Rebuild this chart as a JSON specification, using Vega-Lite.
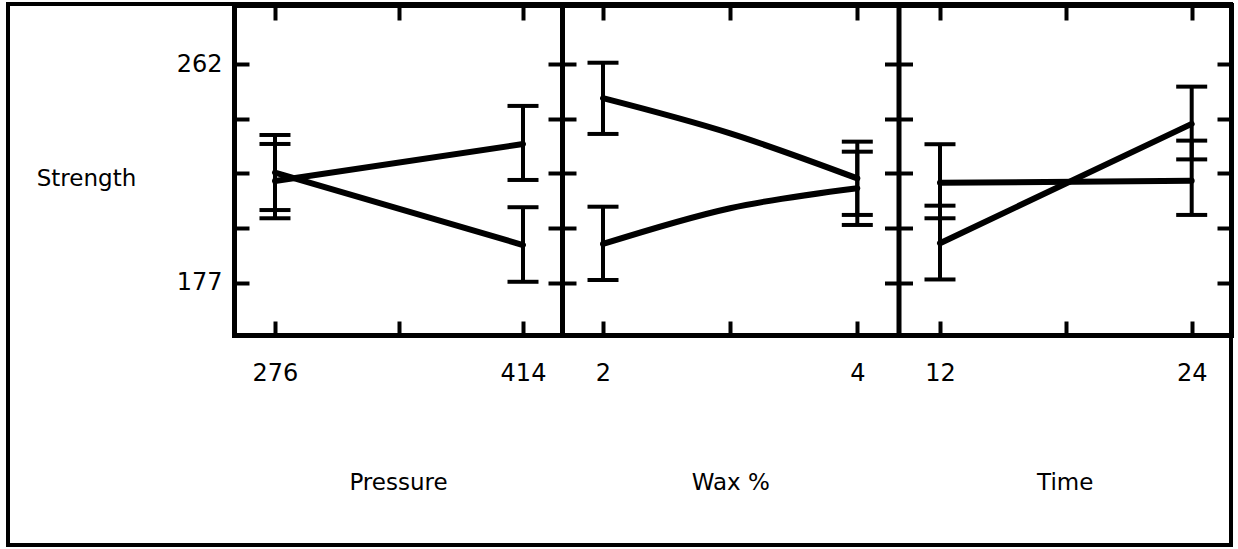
{
  "$schema": "https://vega.github.io/schema/vega-lite/v6.json",
  "width": 1223,
  "height": 541,
  "autosize": {"type": "none"},
  "padding": {"left": 8, "top": 4, "right": 7, "bottom": 4},
  "background": "white",
  "config": {
    "view": {"stroke": "black", "strokeWidth": 4},
    "axis": {
      "grid": false,
      "domainColor": "black",
      "tickColor": "black",
      "labelColor": "black",
      "titleColor": "black",
      "labelFont": "DejaVu Sans",
      "titleFont": "DejaVu Sans",
      "labelFontSize": 24,
      "titleFontSize": 23,
      "titleFontWeight": "normal",
      "domainWidth": 5,
      "tickWidth": 4,
      "domainCap": "square",
      "labelFlush": false,
      "labelOverlap": false,
      "labelBound": false
    }
  },
  "datasets": {
    "pressure": [
      {"Pressure": 276, "series": "A", "Strength": 216.5, "lo": 202.0, "hi": 230.9},
      {"Pressure": 414, "series": "A", "Strength": 230.9, "lo": 216.9, "hi": 245.7},
      {"Pressure": 276, "series": "B", "Strength": 219.8, "lo": 205.2, "hi": 234.4},
      {"Pressure": 414, "series": "B", "Strength": 191.6, "lo": 177.3, "hi": 206.3}
    ],
    "wax": [
      {"Wax": 2, "series": "A", "Strength": 248.7, "lo": 234.8, "hi": 262.5},
      {"Wax": 3, "series": "A", "Strength": 235.0, "lo": null, "hi": null},
      {"Wax": 4, "series": "A", "Strength": 217.5, "lo": 203.3, "hi": 231.8},
      {"Wax": 2, "series": "B", "Strength": 192.0, "lo": 178.0, "hi": 206.5},
      {"Wax": 3, "series": "B", "Strength": 205.9, "lo": null, "hi": null},
      {"Wax": 4, "series": "B", "Strength": 213.7, "lo": 199.4, "hi": 227.9}
    ],
    "time": [
      {"Time": 12, "series": "A", "Strength": 215.8, "lo": 202.0, "hi": 230.8},
      {"Time": 24, "series": "A", "Strength": 216.6, "lo": 203.3, "hi": 232.2},
      {"Time": 12, "series": "B", "Strength": 192.3, "lo": 178.2, "hi": 206.9},
      {"Time": 24, "series": "B", "Strength": 238.7, "lo": 224.9, "hi": 253.2}
    ]
  },
  "resolve": {
    "scale": {"x": "independent", "y": "shared"},
    "axis": {"x": "independent", "y": "independent"}
  },
  "layer": [
    {
      "data": {"name": "pressure"},
      "mark": {"type": "line", "color": "black", "strokeWidth": 6, "strokeCap": "round", "strokeJoin": "round"},
      "encoding": {
        "x": {"field": "Pressure", "type": "quantitative",
          "scale": {"domain": [253.2, 435.7], "range": [226, 554], "nice": false, "zero": false},
          "axis": {"orient": "bottom", "offset": -210, "domain": true, "ticks": false, "tickSize": 0, "labels": true, "values": [276, 414], "format": "d", "labelPadding": 26, "title": "Pressure", "titleY": 154, "titleBaseline": "alphabetic"}},
        "y": {"field": "Strength", "type": "quantitative",
          "scale": {"domain": [156.6, 284.95], "range": [331, 1], "nice": false, "zero": false},
          "axis": {"orient": "left", "offset": -226, "domain": true, "ticks": false, "tickSize": 0, "labels": true, "values": [177, 262], "format": "d", "labelPadding": 12, "title": "Strength", "titleAngle": 0, "titleX": -148, "titleY": 181, "titleAlign": "center", "titleBaseline": "alphabetic", "titleFontSize": 23}},
        "detail": {"field": "series"}
      }
    },
    {
      "data": {"name": "pressure"},
      "mark": {"type": "rule", "color": "black", "strokeWidth": 4},
      "encoding": {
        "x": {"field": "Pressure", "type": "quantitative",
          "scale": {"domain": [253.2, 435.7], "range": [226, 554], "nice": false, "zero": false},
          "axis": {"orient": "bottom", "offset": -540, "domain": true, "ticks": true, "tickSize": 15, "labels": false, "values": [276, 345, 414], "title": null}},
        "y": {"field": "lo", "type": "quantitative",
          "scale": {"domain": [156.6, 284.95], "range": [331, 1], "nice": false, "zero": false},
          "axis": {"orient": "right", "offset": -997, "domain": false, "ticks": true, "tickSize": 15, "labels": false, "values": [177, 198.25, 219.5, 240.75, 262], "title": null}},
        "y2": {"field": "hi"}
      }
    },
    {
      "data": {"name": "pressure"},
      "mark": {"type": "tick", "orient": "horizontal", "color": "black", "size": 31, "thickness": 4, "opacity": 1},
      "encoding": {
        "x": {"field": "Pressure", "type": "quantitative",
          "scale": {"domain": [253.2, 435.7], "range": [226, 554], "nice": false, "zero": false},
          "axis": {"orient": "top", "offset": -331, "domain": false, "ticks": true, "tickSize": 14, "labels": false, "values": [276, 345, 414], "title": null}},
        "y": {"field": "lo", "type": "quantitative",
          "scale": {"domain": [156.6, 284.95], "range": [331, 1], "nice": false, "zero": false},
          "axis": {"orient": "left", "offset": -554, "domain": true, "ticks": true, "tickSize": 14, "labels": false, "values": [177, 198.25, 219.5, 240.75, 262], "title": null}}
      }
    },
    {
      "data": {"name": "pressure"},
      "mark": {"type": "tick", "orient": "horizontal", "color": "black", "size": 31, "thickness": 4, "opacity": 1},
      "encoding": {
        "x": {"field": "Pressure", "type": "quantitative",
          "scale": {"domain": [253.2, 435.7], "range": [226, 554], "nice": false, "zero": false},
          "axis": null},
        "y": {"field": "hi", "type": "quantitative",
          "scale": {"domain": [156.6, 284.95], "range": [331, 1], "nice": false, "zero": false},
          "axis": {"orient": "right", "offset": -669, "domain": false, "ticks": true, "tickSize": 14, "labels": false, "values": [177, 198.25, 219.5, 240.75, 262], "title": null}}
      }
    },
    {
      "data": {"name": "wax"},
      "mark": {"type": "line", "color": "black", "strokeWidth": 6, "strokeCap": "round", "strokeJoin": "round", "interpolate": "natural"},
      "encoding": {
        "x": {"field": "Wax", "type": "quantitative",
          "scale": {"domain": [1.6775, 4.324], "range": [554, 890.5], "nice": false, "zero": false},
          "axis": {"orient": "bottom", "offset": -210, "domain": true, "ticks": false, "tickSize": 0, "labels": true, "values": [2, 4], "format": "d", "labelPadding": 26, "title": "Wax %", "titleY": 154, "titleBaseline": "alphabetic"}},
        "y": {"field": "Strength", "type": "quantitative",
          "scale": {"domain": [156.6, 284.95], "range": [331, 1], "nice": false, "zero": false},
          "axis": {"orient": "left", "offset": -890.5, "domain": true, "ticks": true, "tickSize": 14, "labels": false, "values": [177, 198.25, 219.5, 240.75, 262], "title": null}},
        "detail": {"field": "series"}
      }
    },
    {
      "data": {"name": "wax"},
      "transform": [{"filter": "isValid(datum.lo)"}],
      "mark": {"type": "rule", "color": "black", "strokeWidth": 4},
      "encoding": {
        "x": {"field": "Wax", "type": "quantitative",
          "scale": {"domain": [1.6775, 4.324], "range": [554, 890.5], "nice": false, "zero": false},
          "axis": {"orient": "bottom", "offset": -540, "domain": true, "ticks": true, "tickSize": 15, "labels": false, "values": [2, 3, 4], "title": null}},
        "y": {"field": "lo", "type": "quantitative",
          "scale": {"domain": [156.6, 284.95], "range": [331, 1], "nice": false, "zero": false},
          "axis": {"orient": "right", "offset": -332.5, "domain": false, "ticks": true, "tickSize": 14, "labels": false, "values": [177, 198.25, 219.5, 240.75, 262], "title": null}},
        "y2": {"field": "hi"}
      }
    },
    {
      "data": {"name": "wax"},
      "transform": [{"filter": "isValid(datum.lo)"}],
      "mark": {"type": "tick", "orient": "horizontal", "color": "black", "size": 31, "thickness": 4, "opacity": 1},
      "encoding": {
        "x": {"field": "Wax", "type": "quantitative",
          "scale": {"domain": [1.6775, 4.324], "range": [554, 890.5], "nice": false, "zero": false},
          "axis": {"orient": "top", "offset": -331, "domain": false, "ticks": true, "tickSize": 14, "labels": false, "values": [2, 3, 4], "title": null}},
        "y": {"field": "lo", "type": "quantitative",
          "scale": {"domain": [156.6, 284.95], "range": [331, 1], "nice": false, "zero": false},
          "axis": {"orient": "left", "offset": -1223, "domain": true, "ticks": true, "tickSize": 14, "labels": false, "values": [177, 198.25, 219.5, 240.75, 262], "title": null}}
      }
    },
    {
      "data": {"name": "wax"},
      "transform": [{"filter": "isValid(datum.hi)"}],
      "mark": {"type": "tick", "orient": "horizontal", "color": "black", "size": 31, "thickness": 4, "opacity": 1},
      "encoding": {
        "x": {"field": "Wax", "type": "quantitative",
          "scale": {"domain": [1.6775, 4.324], "range": [554, 890.5], "nice": false, "zero": false},
          "axis": null},
        "y": {"field": "hi", "type": "quantitative",
          "scale": {"domain": [156.6, 284.95], "range": [331, 1], "nice": false, "zero": false},
          "axis": null}
      }
    },
    {
      "data": {"name": "time"},
      "mark": {"type": "line", "color": "black", "strokeWidth": 6, "strokeCap": "round", "strokeJoin": "round"},
      "encoding": {
        "x": {"field": "Time", "type": "quantitative",
          "scale": {"domain": [10.022, 25.874], "range": [890.5, 1223], "nice": false, "zero": false},
          "axis": {"orient": "bottom", "offset": -210, "domain": true, "ticks": false, "tickSize": 0, "labels": true, "values": [12, 24], "format": "d", "labelPadding": 26, "title": "Time", "titleY": 154, "titleBaseline": "alphabetic"}},
        "y": {"field": "Strength", "type": "quantitative",
          "scale": {"domain": [156.6, 284.95], "range": [331, 1], "nice": false, "zero": false},
          "axis": null},
        "detail": {"field": "series"}
      }
    },
    {
      "data": {"name": "time"},
      "mark": {"type": "rule", "color": "black", "strokeWidth": 4},
      "encoding": {
        "x": {"field": "Time", "type": "quantitative",
          "scale": {"domain": [10.022, 25.874], "range": [890.5, 1223], "nice": false, "zero": false},
          "axis": {"orient": "bottom", "offset": -540, "domain": true, "ticks": true, "tickSize": 15, "labels": false, "values": [12, 18, 24], "title": null}},
        "y": {"field": "lo", "type": "quantitative",
          "scale": {"domain": [156.6, 284.95], "range": [331, 1], "nice": false, "zero": false},
          "axis": null},
        "y2": {"field": "hi"}
      }
    },
    {
      "data": {"name": "time"},
      "mark": {"type": "tick", "orient": "horizontal", "color": "black", "size": 31, "thickness": 4, "opacity": 1},
      "encoding": {
        "x": {"field": "Time", "type": "quantitative",
          "scale": {"domain": [10.022, 25.874], "range": [890.5, 1223], "nice": false, "zero": false},
          "axis": {"orient": "top", "offset": -331, "domain": false, "ticks": true, "tickSize": 14, "labels": false, "values": [12, 18, 24], "title": null}},
        "y": {"field": "lo", "type": "quantitative",
          "scale": {"domain": [156.6, 284.95], "range": [331, 1], "nice": false, "zero": false},
          "axis": null}
      }
    },
    {
      "data": {"name": "time"},
      "mark": {"type": "tick", "orient": "horizontal", "color": "black", "size": 31, "thickness": 4, "opacity": 1},
      "encoding": {
        "x": {"field": "Time", "type": "quantitative",
          "scale": {"domain": [10.022, 25.874], "range": [890.5, 1223], "nice": false, "zero": false},
          "axis": null},
        "y": {"field": "hi", "type": "quantitative",
          "scale": {"domain": [156.6, 284.95], "range": [331, 1], "nice": false, "zero": false},
          "axis": null}
      }
    }
  ]
}
